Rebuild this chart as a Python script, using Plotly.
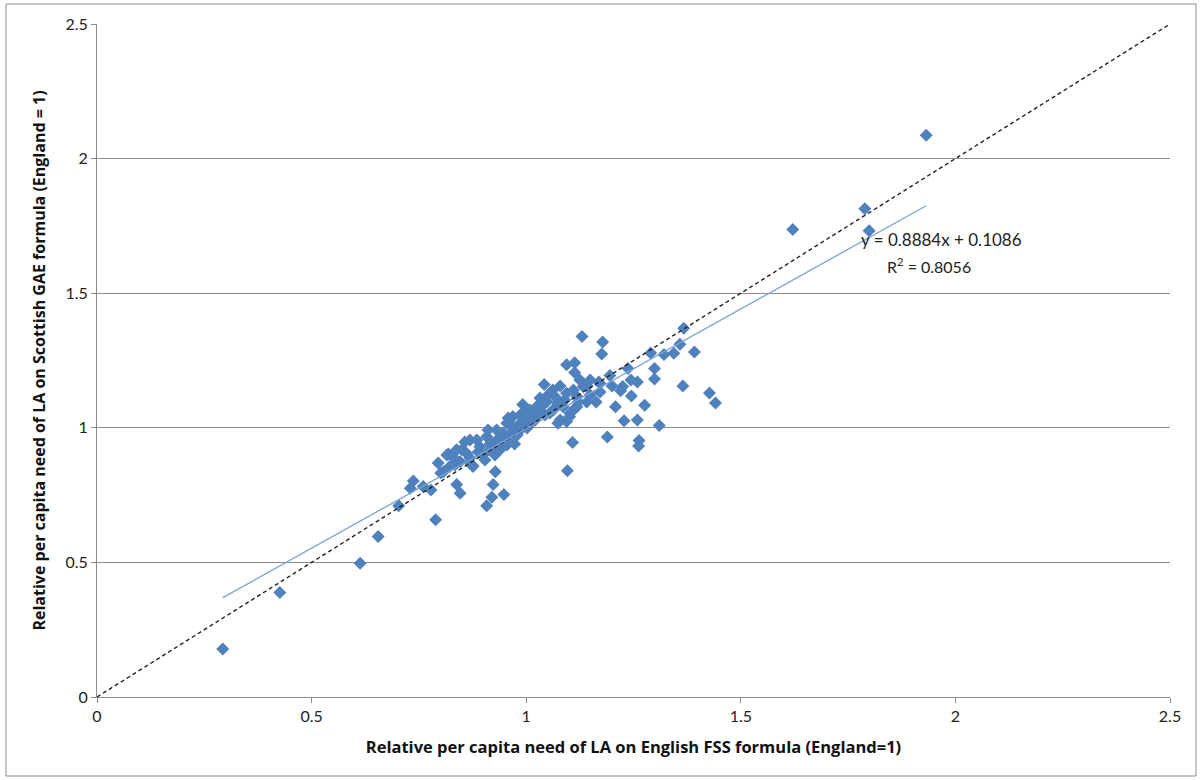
import plotly.graph_objects as go

# English FSS relative need (x) vs Scottish GAE relative need (y)
fss_x = [
    0.293, 0.426, 0.613, 0.655, 0.703, 0.737, 0.730, 0.760, 0.778, 0.789,
    0.801, 0.819, 0.838, 0.846, 0.875, 0.869, 0.928, 0.923, 0.948, 0.920,
    0.908, 0.973, 1.096, 1.108, 1.189, 1.263, 1.262, 1.228, 1.259, 1.310,
    1.208, 1.276, 1.365, 1.427, 1.441, 1.245, 1.225, 1.220, 1.259, 1.244,
    1.299, 1.299, 1.237, 1.290, 1.321, 1.344, 1.392, 1.358, 1.367, 1.130,
    1.178, 1.176, 1.094, 1.113, 1.113, 1.042, 1.195, 1.169, 1.163, 1.141,
    1.142, 1.125, 0.992, 0.969, 1.101, 1.110, 1.074, 1.932, 1.789, 1.799,
    1.621,
    0.815, 0.838, 0.846, 0.869, 0.876, 0.807, 0.899, 0.916, 0.885, 0.908,
    0.923, 0.939, 0.947, 0.970, 0.986, 1.001, 1.017, 1.028, 0.955, 0.931,
    0.892, 0.861, 0.822, 1.048, 1.071, 1.086, 1.063, 1.032, 0.970, 0.947,
    1.118, 1.133, 1.149, 1.172, 1.102, 1.079, 1.094, 1.024, 1.094, 1.110,
    1.118,
    1.051, 1.039, 1.074, 1.055, 1.009, 0.986, 0.962, 0.932, 0.916, 0.888,
    0.850, 0.869, 0.834, 0.795, 0.904, 0.927, 0.955, 0.979, 1.002, 1.021,
    1.044, 1.067, 1.090, 1.062, 1.032, 1.009, 0.986, 0.911, 0.857, 0.832,
    1.149, 1.079, 0.997, 0.958, 1.172, 1.200, 1.121,
]
gae_y = [
    0.178, 0.388, 0.497, 0.596, 0.710, 0.802, 0.775, 0.782, 0.769, 0.658,
    0.832, 0.903, 0.789, 0.757, 0.860, 0.955, 0.837, 0.789, 0.752, 0.742,
    0.710, 0.940, 0.840, 0.945, 0.966, 0.953, 0.932, 1.026, 1.029, 1.009,
    1.078, 1.084, 1.155, 1.129, 1.092, 1.118, 1.153, 1.138, 1.170, 1.178,
    1.181, 1.220, 1.220, 1.278, 1.272, 1.277, 1.282, 1.310, 1.370, 1.339,
    1.319, 1.274, 1.234, 1.242, 1.205, 1.161, 1.194, 1.170, 1.096, 1.096,
    1.155, 1.178, 1.087, 1.042, 1.041, 1.066, 1.017, 2.087, 1.814, 1.732,
    1.737,
    0.899, 0.918, 0.874, 0.869, 0.856, 0.837, 0.899, 0.918, 0.955, 0.967,
    0.943, 0.918, 0.980, 0.992, 1.017, 1.029, 1.041, 1.066, 1.017, 0.992,
    0.930, 0.905, 0.856, 1.097, 1.110, 1.078, 1.066, 1.054, 1.004, 0.967,
    1.116, 1.153, 1.178, 1.165, 1.054, 1.029, 1.023, 1.078, 1.128, 1.140,
    1.078,
    1.122, 1.085, 1.092, 1.055, 1.014, 0.992, 0.970, 0.955, 0.940, 0.910,
    0.918, 0.888, 0.862, 0.869, 0.880, 0.899, 0.936, 0.973, 0.999, 1.029,
    1.048, 1.074, 1.103, 1.140, 1.111, 1.066, 1.048, 0.992, 0.947, 0.888,
    1.122, 1.155, 1.059, 1.036, 1.133, 1.155, 1.096,
]

trend_slope = 0.8884
trend_intercept = 0.1086
r_squared = 0.8056
equality_line = [0, 2.5]
tick_vals = [0, 0.5, 1, 1.5, 2, 2.5]
tick_text = ["0", "0.5", "1", "1.5", "2", "2.5"]

x_title = "Relative per capita need of LA on English FSS formula (England=1)"
y_title = "Relative per capita need of LA on Scottish GAE formula (England = 1)"

FONT = "Lato, 'Open Sans', sans-serif"
TITLE_FONT = "'Open Sans', Lato, sans-serif"
GRID = "#8c8c8c"
BLUE = "#4F81BD"

tx = [min(fss_x), max(fss_x)]
ty = [trend_slope * v + trend_intercept for v in tx]

fig = go.Figure()
fig.add_trace(go.Scatter(
    x=fss_x, y=gae_y, mode="markers",
    marker=dict(symbol="diamond", size=10, color=BLUE, line=dict(width=0)),
    showlegend=False, hoverinfo="x+y",
))
fig.add_trace(go.Scatter(
    x=equality_line, y=equality_line, mode="lines",
    line=dict(color="#222222", width=1.4, dash="4px,3px"),
    showlegend=False, hoverinfo="skip",
))
fig.add_trace(go.Scatter(
    x=tx, y=ty, mode="lines",
    line=dict(color="#7AA3D6", width=1.3),
    showlegend=False, hoverinfo="skip",
))

fig.add_annotation(
    x=1.776, y=1.698, xref="x", yref="y", xanchor="left", yanchor="middle",
    text=f"y = {trend_slope:.4f}x + {trend_intercept:.4f}", showarrow=False,
    font=dict(family=FONT, size=17, color="#222222"),
)
fig.add_annotation(
    x=2.041, y=1.603, xref="x", yref="y", xanchor="right", yanchor="middle",
    text=f"R<sup>2</sup> = {r_squared:.4f}", showarrow=False,
    font=dict(family=FONT, size=16, color="#222222"),
)

# outer chart border
fig.add_shape(
    type="rect", xref="paper", yref="paper",
    x0=-0.0848, x1=1.0242, y0=-0.1174, y1=1.0297,
    line=dict(color="#8c8c8c", width=1), fillcolor="rgba(0,0,0,0)", layer="below",
)

fig.update_xaxes(
    range=[0, 2.5], tickvals=tick_vals, ticktext=tick_text,
    showgrid=False, zeroline=False,
    showline=True, linecolor=GRID, linewidth=1,
    ticks="outside", ticklen=5, tickcolor=GRID,
    tickfont=dict(family=FONT, size=16, color="#222222"),
    title=dict(text=f"<b>{x_title}</b>", font=dict(family=TITLE_FONT, size=16.5, color="#111111"), standoff=17),
)
fig.update_yaxes(
    range=[0, 2.5], tickvals=tick_vals, ticktext=tick_text,
    showgrid=True, gridcolor=GRID, gridwidth=1, zeroline=False,
    showline=True, linecolor=GRID, linewidth=1,
    ticks="outside", ticklen=5, tickcolor=GRID,
    tickfont=dict(family=FONT, size=16, color="#222222"),
    title=dict(text=f"<b>{y_title}</b>", font=dict(family=TITLE_FONT, size=16, color="#111111"), standoff=15),
)

fig.update_layout(
    width=1200, height=780,
    margin=dict(l=97, r=30, t=24, b=83),
    paper_bgcolor="white", plot_bgcolor="white",
    font=dict(family=FONT),
)

fig.write_html("out.html", config={"displayModeBar": False},
               post_script="document.body.style.margin='0';")
